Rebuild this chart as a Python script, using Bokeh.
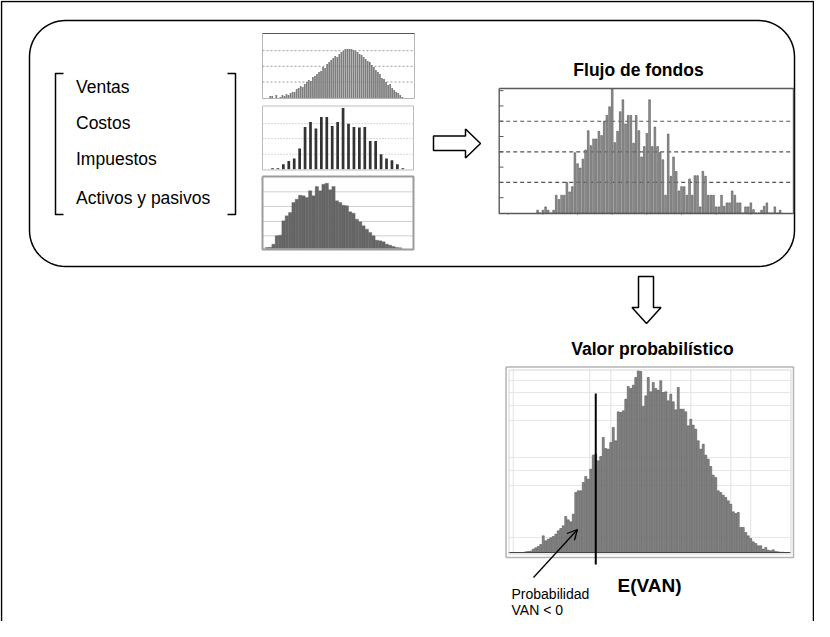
import numpy as np
from bokeh.plotting import figure
from bokeh.models import Range1d, Arrow, OpenHead
from bokeh.embed import file_html
from bokeh.resources import INLINE
from bokeh.core.properties import value

# ---------------- data ----------------
input_labels = ["Ventas", "Costos", "Impuestos", "Activos y pasivos"]

ventas_hist = [2, 2, 0, 3, 0, 1, 3, 2, 4, 3,
               5, 6, 6, 9, 10, 12, 11, 14, 16, 18,
               17, 21, 22, 24, 26, 27, 31, 30, 34, 36,
               38, 40, 42, 41, 44, 46, 47, 49, 49, 49,
               49, 48, 47, 46, 44, 43, 41, 39, 37, 36,
               33, 31, 28, 26, 24, 20, 19, 16, 13, 14,
               10, 8, 6, 5, 3, 1]

costos_hist = [3, 3, 15, 25, 32, 62, 127, 142, 122, 157, 157, 130, 142,
               184, 137, 127, 125, 127, 85, 85, 45, 32, 27, 15, 3]

activos_hist = [3, 4, 13, 38, 40, 83, 98, 108, 138, 148,
                160, 158, 153, 173, 158, 186, 173, 193, 196, 176,
                186, 143, 138, 130, 128, 110, 106, 88, 80, 68,
                58, 48, 38, 25, 23, 20, 13, 10, 6, 3, 2]

flujo_hist = [0.09, 0, 0.09, 0.2, 0.09, 0, 0.09, 0.58, 0.44, 0.58,
              0.58, 1.0, 0.69, 0.86, 1.97, 1.61, 1.47, 1.76, 2.06, 2.69,
              2.2, 2.42, 2.42, 2.67, 2.53, 3.0, 3.19, 3.47, 4.06,
              2.3, 2.67, 3.31, 3.7, 2.91, 3.19, 3.19, 2.28, 3.19, 2.69, 1.83, 2.17,
              2.6, 3.7,
              2.17, 2.81, 2.17, 1.98, 1.74, 0.58, 2.58, 1.2, 1.83, 1.36,
              0.72, 0.86, 0.86, 0.58, 1.11, 0.58, 1.22, 1.22, 0.2, 1.36,
              1.2, 0.58, 0.58, 0.58, 0.2, 0.2, 0.58, 0.22, 0.33, 0.33,
              0.72, 0.58, 0.33, 0.33, 0, 0.2, 0.2, 0.33, 0.11, 0,
              0, 0.09, 0.22, 0.33, 0, 0, 0.2, 0, 0.09]
flujo_grid = [1, 2, 3]

van_hist = [0.7, 1, 1.3, 3.3, 4.7, 6, 8, 16.7, 11.7, 13.3,
            14.7, 16, 18.3, 21.7, 24, 26.7, 36, 32.7, 30.7, 38.3,
            60, 61.7, 61.7, 70, 76, 73.3, 83.3, 97.3, 98.3, 91.7,
            96, 115, 104, 103.3, 110, 125, 111.7, 140.7, 140, 141.7,
            153.3, 166, 164, 167.3, 175, 181.7, 181, 146, 156.7, 175,
            160.7, 170, 164, 162.3, 171.7, 160, 160.7, 151.7, 158.3, 150.7,
            142.7, 165, 143.3, 143.3, 140.7, 126.7, 133.3, 127.3, 123.3, 111.7,
            103.3, 108.3, 97.3, 93.3, 86, 77.3, 75, 61.7, 60, 57.3,
            55, 51.7, 48.3, 40.7, 39, 40, 25, 25, 20, 16.7,
            14, 10.7, 9, 6.7, 6.7, 3.3, 5, 2.3, 1.7, 2.7,
            1, 0.7, 0.3, 0.3]
van_zero_bin = 28

flujo_title = "Flujo de fondos"
van_title = "Valor probabilístico"
ev_label = "E(VAN)"
prob_label = ["Probabilidad", "VAN < 0"]

# ---------------- canvas ----------------
W, H = 814, 621
X0, X1 = 8, 822          # canvas coordinates = screenshot pixels
YB, YT = 629, 8
FONT = value("Liberation Sans")

p = figure(width=W, height=H, x_range=Range1d(X0, X1), y_range=Range1d(YB, YT),
           output_backend="svg", toolbar_location=None, min_border=0,
           x_axis_location=None, y_axis_location=None, outline_line_color=None,
           background_fill_color="white", border_fill_color="white")
p.grid.visible = False


def sub_ranges(name, box, xdom, ydom):
    L, R, T, B = box
    kx = (xdom[1] - xdom[0]) / (R - L)
    p.extra_x_ranges[name] = Range1d(xdom[0] + (X0 - L) * kx, xdom[0] + (X1 - L) * kx)
    ky = (ydom[1] - ydom[0]) / (B - T)
    p.extra_y_ranges[name] = Range1d(ydom[0] + (B - YB) * ky, ydom[0] + (B - YT) * ky)
    return dict(x_range_name=name, y_range_name=name)


def box_outline(L, R, T, B, color, width):
    p.line([L, R, R, L, L], [T, T, B, B, T], line_color=color, line_width=width)


def hgrid(kw, xdom, ys, color, dash, width=1):
    p.segment(x0=[xdom[0]] * len(ys), x1=[xdom[1]] * len(ys), y0=ys, y1=ys,
              line_color=color, line_dash=dash, line_width=width, **kw)


def label(x, y, txt, size, bold=False, align="left"):
    p.text(x=x, y=y, text=txt, text_font=FONT, text_font_size=value(size),
           text_font_style="bold" if bold else "normal", text_align=align,
           text_baseline="alphabetic", text_color="black")


# outer frame (open at the bottom)
p.line([9, 9, 821, 821], [640, 9, 9, 640], line_color="black", line_width=1.5)

# rounded box
L, R, T, B, r = 37, 802, 28, 274, 36
rx, ry = [], []
for cx, cy, a0 in [(L + r, T + r, 180), (R - r, T + r, 270), (R - r, B - r, 0), (L + r, B - r, 90)]:
    a = np.radians(np.linspace(a0, a0 + 90, 16))
    rx += list(cx + r * np.cos(a))
    ry += list(cy + r * np.sin(a))
rx.append(rx[0]); ry.append(ry[0])
p.line(rx, ry, line_color="black", line_width=1.5)

# brackets
p.multi_line([[71, 63, 63, 71], [235, 243, 243, 235]],
             [[81, 81, 222, 222], [81, 81, 222, 222]], line_color="black", line_width=1.5)
label([83.5] * 4, [94.5, 130.5, 166, 205], input_labels, "17.5px")

# ---- small histogram 1 (top) ----
box1 = (270, 422, 41, 105.5)
xd1 = (-3.8, 71.0)
yd1 = (0, 64.5)
kw1 = sub_ranges("h1", box1, xd1, yd1)
hgrid(kw1, xd1, [16, 31.7, 47.3], "#9a9a9a", "2 2")
p.vbar(x=list(range(len(ventas_hist))), top=ventas_hist, width=0.85, bottom=0,
       fill_color="#7d7d7d", line_color=None, **kw1)
box_outline(270, 422, 41, 106, "#b5b5b5", 1)
p.line([270, 422], [41, 41], line_color="#555555", line_width=1.2)

# ---- small histogram 2 (middle) ----
box2 = (270, 421, 113.5, 176.7)
xd2 = (-1.84, 25.97)
yd2 = (0, 190)
kw2 = sub_ranges("h2", box2, xd2, yd2)
hgrid(kw2, xd2, [45, 92, 137], "#b0b0b0", "1 2")
p.vbar(x=list(range(len(costos_hist))), top=costos_hist, width=0.5, bottom=0,
       fill_color="#333333", line_color=None, **kw2)
box_outline(270, 421, 113.5, 177.5, "#bdbdbd", 1)

# ---- small histogram 3 (bottom) ----
box3 = (270, 421, 184, 256)
xd3 = (-1.3, 44.0)
yd3 = (0, 216)
kw3 = sub_ranges("h3", box3, xd3, yd3)
hgrid(kw3, xd3, [38, 81, 126, 170], "#d0d0d0", "solid")
p.vbar(x=list(range(len(activos_hist))), top=activos_hist, width=1.0, bottom=0,
       fill_color="#666666", line_color="#555555", line_width=0.3, **kw3)
box_outline(270, 421, 184, 257, "#9c9c9c", 2)

# ---- right block arrow ----
p.patch([441, 473, 473, 488, 473, 473, 441], [143.5, 143.5, 136.5, 151, 165.5, 158, 158],
        fill_color="white", line_color="black", line_width=1.5)

# ---- Flujo de fondos ----
boxf = (506.7, 801, 96, 220.5)
xdf = (-14.4, 96.0)
ydf = (0, 4.07)
kwf = sub_ranges("fl", boxf, xdf, ydf)
hgrid(kwf, xdf, flujo_grid, "#555555", "4 3", 1.2)
p.vbar(x=list(range(len(flujo_hist))), top=flujo_hist, width=0.62, bottom=0,
       fill_color="#9a9a9a", line_color="#4a4a4a", line_width=0.6, **kwf)
lt = [0.5 * k for k in range(1, 9)]
p.segment(x0=[xdf[0]] * len(lt), x1=[xdf[0] + 1.6] * len(lt), y0=lt, y1=lt,
          line_color="#555555", line_width=1, **kwf)
bt = [-11, 2, 15, 28, 41, 54, 67, 80]
p.segment(x0=bt, x1=bt, y0=[0] * len(bt), y1=[-0.05] * len(bt), line_color="#555555", line_width=1, **kwf)
box_outline(506.7, 801, 96, 221, "#5a5a5a", 1.4)
label([646], [77], [flujo_title], "17.5px", bold=True, align="center")

# ---- down block arrow ----
p.patch([646, 661, 661, 668.5, 654, 639.5, 646], [284, 284, 315, 315, 331, 315, 315],
        fill_color="white", line_color="black", line_width=1.5)

# ---- Valor probabilístico ----
label([660], [356], [van_title], "17.5px", bold=True, align="center")
boxv = (516, 798, 377, 560)
xdv = (-6.9, 105.9)
ydv = (0, 183)
kwv = sub_ranges("van", boxv, xdv, ydv)
vg = [-5, 25.6, 34, 58, 66, 82, 90]
p.segment(x0=vg, x1=vg, y0=[0] * len(vg), y1=[ydv[1]] * len(vg), line_color="#e2e2e2", line_width=1, **kwv)
hgrid(kwv, xdv, [15, 67, 82, 95, 132, 147, 160, 172], "#e6e6e6", "solid")
p.vbar(x=list(range(len(van_hist))), top=van_hist, width=0.8, bottom=0,
       fill_color="#8a8a8a", line_color="#3f3f3f", line_width=0.5, **kwv)
p.segment(x0=[xdv[0]], x1=[xdv[1]], y0=[0], y1=[0], line_color="#444444", line_width=1, **kwv)
box_outline(513.5, 801, 374.5, 565, "#b4b4b4", 1.5)
box_outline(516.5, 798.5, 377.5, 561.5, "#d6d6d6", 1)
p.segment(x0=[van_zero_bin], x1=[van_zero_bin], y0=[-12], y1=[159],
          line_color="black", line_width=2, **kwv)

# labels & arrow
p.add_layout(Arrow(end=OpenHead(size=10, line_width=1.3, line_color="black"),
                   x_start=541, y_start=585, x_end=585, y_end=537,
                   line_color="black", line_width=1.3))
label([657], [593], [ev_label], "19px", bold=True, align="center")
label([519, 519], [601, 617], prob_label, "14px")

open("out.html", "w").write(file_html(p, INLINE))
